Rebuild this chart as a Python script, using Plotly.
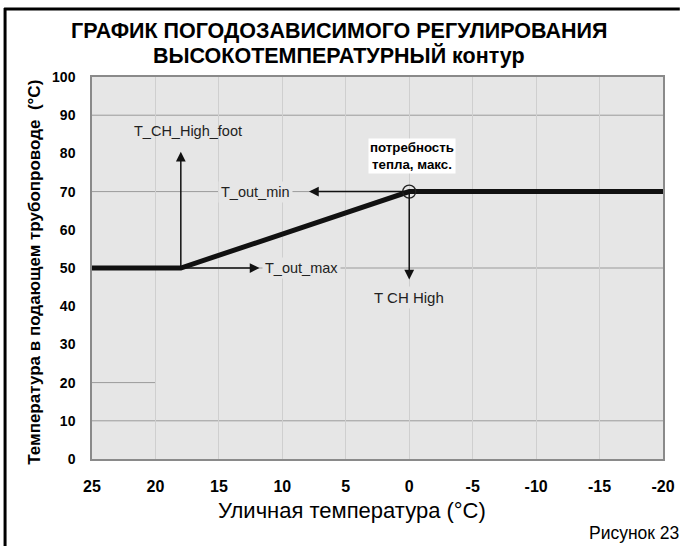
import plotly.graph_objects as go

# ---- data ----
outdoor_temp = [25, 18, 0, -20]
flow_temp = [50, 50, 70, 70]
x_ticks = [25, 20, 15, 10, 5, 0, -5, -10, -15, -20]
y_ticks = [0, 10, 20, 30, 40, 50, 60, 70, 80, 90, 100]
grid_h_full = [90, 70, 50, 10]
setpoint_x = [0]
setpoint_y = [70]

# plot-area pixel geometry (figure 687x546)
W, H = 687, 546
L, R, T, B = 92, 17, 77, 87
pw, ph = W - L - R, H - T - B

def px(xpix):
    return (xpix - L) / pw

def py(ypix):
    return (H - B - ypix) / ph

FONT = "Liberation Sans, Arial, sans-serif"

fig = go.Figure()
fig.add_trace(go.Scatter(x=outdoor_temp, y=flow_temp, mode="lines",
                         line=dict(color="#111111", width=5), hoverinfo="skip"))
fig.add_trace(go.Scatter(x=setpoint_x, y=setpoint_y, mode="markers",
                         marker=dict(symbol="circle-open", size=13, color="#222222",
                                     line=dict(color="#222222", width=1.3)),
                         hoverinfo="skip"))

shapes = []
for v in grid_h_full:
    shapes.append(dict(type="line", xref="x", yref="y", x0=25, x1=-20, y0=v, y1=v,
                       line=dict(color="#9a9a9a", width=1), layer="below"))
shapes.append(dict(type="line", xref="x", yref="y", x0=25, x1=20, y0=20, y1=20,
                   line=dict(color="#9a9a9a", width=1), layer="below"))
# outer frame (top + left)
shapes.append(dict(type="line", xref="paper", yref="paper",
                   x0=px(3), x1=px(687), y0=py(9), y1=py(9),
                   line=dict(color="black", width=3)))
shapes.append(dict(type="line", xref="paper", yref="paper",
                   x0=px(4), x1=px(4), y0=py(8), y1=py(547),
                   line=dict(color="black", width=3)))

ann = []
def arrow(x0, y0, x1, y1):
    ann.append(dict(x=x1, y=y1, ax=x0, ay=y0, xref="x", yref="y", axref="x", ayref="y",
                    text="", showarrow=True, arrowhead=2, arrowsize=1.3, arrowwidth=1.5,
                    arrowcolor="#111111", standoff=0, startstandoff=0))

arrow(18, 50, 18, 80.4)
arrow(18, 50, 11.8, 50)
arrow(0, 70, 7.9, 70)
arrow(0, 70, 0, 47)

lab_font = dict(family=FONT, size=14.5, color="#222222")
ann.append(dict(x=17.4, y=85.9, xref="x", yref="y", text="T_CH_High_foot",
                showarrow=False, font=lab_font))
ann.append(dict(x=12.1, y=70, xref="x", yref="y", text="T_out_min", showarrow=False,
                font=lab_font, bgcolor="#e6e6e6", borderpad=2))
ann.append(dict(x=8.5, y=50, xref="x", yref="y", text="T_out_max", showarrow=False,
                font=lab_font, bgcolor="#e6e6e6", borderpad=2))
ann.append(dict(x=0, y=42.4, xref="x", yref="y", text="T CH High", showarrow=False,
                font=dict(family=FONT, size=15, color="#222222"), bgcolor="#e6e6e6", borderpad=2))
ann.append(dict(x=-0.2, y=79.3, xref="x", yref="y", text="<b>потребность<br>тепла, макс.</b>",
                showarrow=False, bgcolor="white", borderpad=1,
                font=dict(family=FONT, size=13.3, color="black")))

# titles and caption
ann.append(dict(x=px(342), y=py(31), xref="paper", yref="paper",
                text="<b>ГРАФИК ПОГОДОЗАВИСИМОГО РЕГУЛИРОВАНИЯ</b>", showarrow=False,
                xanchor="center", yanchor="middle",
                font=dict(family=FONT, size=21.5, color="black")))
ann.append(dict(x=px(342), y=py(56), xref="paper", yref="paper",
                text="<b>ВЫСОКОТЕМПЕРАТУРНЫЙ контур</b>", showarrow=False,
                xanchor="center", yanchor="middle",
                font=dict(family=FONT, size=21.5, color="black")))
ann.append(dict(x=px(33), y=py(272), xref="paper", yref="paper", textangle=-90,
                text="<b>Температура в подающем трубопроводе  (°C)</b>", showarrow=False,
                xanchor="center", yanchor="middle",
                font=dict(family=FONT, size=17, color="black")))
ann.append(dict(x=px(355), y=py(510), xref="paper", yref="paper",
                text="Уличная температура (°C)", showarrow=False,
                xanchor="center", yanchor="middle",
                font=dict(family=FONT, size=22, color="black")))
ann.append(dict(x=px(688), y=py(533), xref="paper", yref="paper",
                text="Рисунок 23", showarrow=False, xanchor="right", yanchor="middle",
                font=dict(family=FONT, size=17.5, color="black")))

fig.update_layout(
    width=W, height=H,
    margin=dict(l=L, r=R, t=T, b=B),
    paper_bgcolor="white",
    plot_bgcolor="#e6e6e6",
    showlegend=False,
    xaxis=dict(range=[25, -20], tickmode="array", tickvals=x_ticks,
               ticktext=[str(v) for v in x_ticks],
               tickfont=dict(family=FONT, size=16, color="black", weight="bold"),
               showgrid=True, gridcolor="#cfcfcf", gridwidth=1, zeroline=False,
               showline=True, linecolor="#8a8a8a", linewidth=1.5, mirror=True,
               ticks="", ticklabelstandoff=12),
    yaxis=dict(range=[0, 100], tickmode="array", tickvals=y_ticks,
               tickfont=dict(family=FONT, size=14, color="black", weight="bold"),
               showgrid=False, zeroline=False,
               showline=True, linecolor="#8a8a8a", linewidth=1.5, mirror=True,
               ticks="", ticklabelstandoff=12),
    shapes=shapes,
    annotations=ann,
)

fig.write_html("out.html", config={"displayModeBar": False},
               post_script="document.body.style.margin='0';document.body.style.overflow='hidden';")
